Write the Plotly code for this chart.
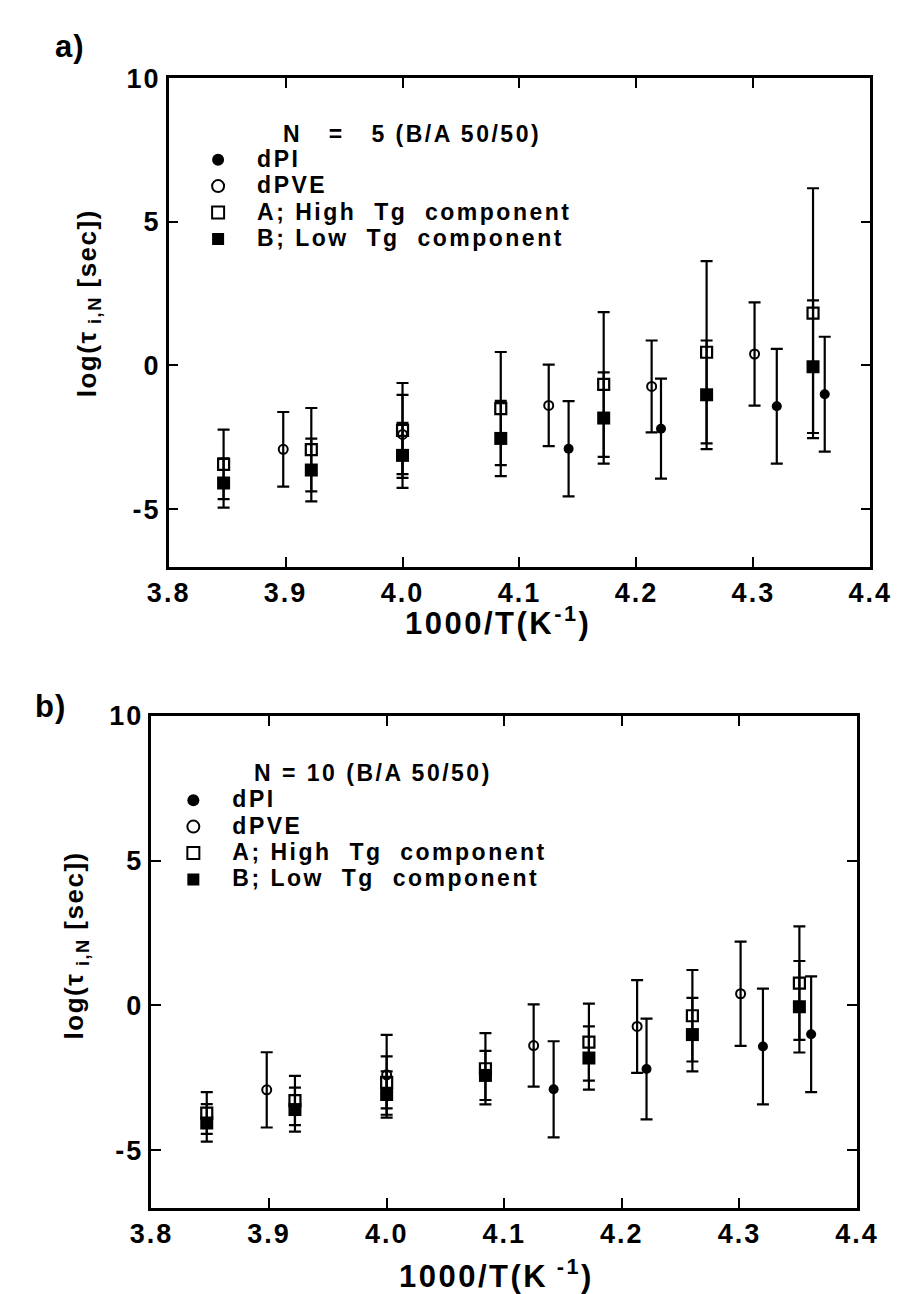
import plotly.graph_objects as go

# ---------------- data ----------------
x_dPI = [4.142, 4.221, 4.320, 4.361]
y_dPI = [-2.90, -2.20, -1.42, -1.00]
e_dPI = [1.66, 1.74, 2.00, 2.00]

x_dPVE = [3.898, 4.000, 4.125, 4.213, 4.301]
y_dPVE = [-2.92, -2.40, -1.39, -0.73, 0.40]
e_dPVE = [1.30, 1.38, 1.42, 1.60, 1.80]

x_AB = [3.847, 3.922, 4.000, 4.084, 4.172, 4.260, 4.351]

# panel a (N = 5)
a_A = [-3.44, -2.93, -2.26, -1.50, -0.66, 0.46, 1.82]
a_A_err = [1.21, 1.45, 1.65, 1.97, 2.52, 3.17, 4.35]
a_B = [-4.09, -3.64, -3.13, -2.54, -1.83, -1.02, -0.04]
a_B_err = [0.86, 1.09, 1.13, 1.31, 1.59, 1.89, 2.31]

# panel b (N = 10)
b_A = [-3.72, -3.29, -2.66, -2.19, -1.27, -0.36, 0.77]
b_A_err = [0.72, 0.85, 0.90, 1.23, 1.33, 1.58, 1.96]
b_B = [-4.06, -3.60, -3.08, -2.42, -1.82, -1.01, -0.05]
b_B_err = [0.65, 0.76, 0.80, 0.85, 1.09, 1.27, 1.58]

x_ticks = [3.8, 3.9, 4.0, 4.1, 4.2, 4.3, 4.4]
x_ticklabels = ["3.8", "3.9", "4.0", "4.1", "4.2", "4.3", "4.4"]
y_ticks = [-5, 0, 5, 10]
y_ticklabels = ["-5", "0", "5", "10"]

NB = "\u00a0"
series_names = ["dPI", "dPVE",
                "A;" + NB + "High" + NB * 2 + "Tg" + NB * 2 + "component",
                "B;" + NB + "Low" + NB * 2 + "Tg" + NB * 2 + "component"]
panel_titles = ["N" + NB * 3 + "=" + NB * 3 + "5 (B/A 50/50)", "N = 10 (B/A 50/50)"]
panel_letters = ["a)", "b)"]
y_title = "log(τ<sub> i,N</sub> [sec])"
x_titles = ["1000/T(K<sup>-1</sup>)", "1000/T(K<sup> -1</sup>)"]

FONT = "Liberation Sans, Arial, Helvetica, sans-serif"


def spaced(t, ls=2.5, size=None):
    st = "letter-spacing:%spx" % ls
    if size:
        st += ";font-size:%spx" % size
    return '<span style="%s">%s</span>' % (st, t)


fig = go.Figure()


def add_panel(k, yA, eA, yB, eB):
    xa = "x" if k == 1 else "x2"
    ya = "y" if k == 1 else "y2"
    lg = "legend" if k == 1 else "legend2"

    def err(arr):
        return dict(type="data", array=arr, visible=True, color="black",
                    thickness=2.2, width=6)

    fig.add_trace(go.Scatter(x=x_dPI, y=y_dPI, mode="markers",
                             name=spaced(series_names[0], 2.5, 23),
                             marker=dict(symbol="circle", size=10, color="black"),
                             error_y=err(e_dPI), xaxis=xa, yaxis=ya, legend=lg))
    fig.add_trace(go.Scatter(x=x_dPVE, y=y_dPVE, mode="markers",
                             name=spaced(series_names[1], 2.5, 23),
                             marker=dict(symbol="circle-open", size=9, color="black",
                                         line=dict(width=2, color="black")),
                             error_y=err(e_dPVE), xaxis=xa, yaxis=ya, legend=lg))
    fig.add_trace(go.Scatter(x=x_AB, y=yA, mode="markers",
                             name=spaced(series_names[2], 2.5, 23),
                             marker=dict(symbol="square-open", size=11, color="black",
                                         line=dict(width=2.2, color="black")),
                             error_y=err(eA), xaxis=xa, yaxis=ya, legend=lg))
    fig.add_trace(go.Scatter(x=x_AB, y=yB, mode="markers",
                             name=spaced(series_names[3], 2.5, 23),
                             marker=dict(symbol="square", size=13, color="black"),
                             error_y=err(eB), xaxis=xa, yaxis=ya, legend=lg))


add_panel(1, a_A, a_A_err, a_B, a_B_err)
add_panel(2, b_A, b_A_err, b_B, b_B_err)

xt_text = [spaced(t, 2) for t in x_ticklabels]
yt_text = [spaced(t, 2) for t in y_ticklabels]

axis_common = dict(showline=True, linecolor="black", linewidth=2.5, mirror="ticks",
                   ticks="inside", ticklen=10, tickwidth=2, tickcolor="black",
                   showgrid=False, zeroline=False,
                   tickfont=dict(family=FONT, size=27, color="black", weight="bold"))

xdomA = [154 / 919, 891 / 919]
ydomA = [1 - 558 / 1294, 1 - 64 / 1294]
xdomB = [136 / 919, 877 / 919]
ydomB = [1 - 1207 / 1294, 1 - 709 / 1294]

leg_common = dict(xanchor="left", yanchor="top", bgcolor="rgba(0,0,0,0)",
                  borderwidth=0, tracegroupgap=0, itemwidth=68, itemsizing="constant",
                  font=dict(family=FONT, size=18, color="black", weight="bold"))

fig.update_layout(
    width=919, height=1294,
    margin=dict(l=0, r=0, t=0, b=0),
    paper_bgcolor="white", plot_bgcolor="white",
    font=dict(family=FONT, color="black"),
    xaxis=dict(domain=xdomA, range=[3.8, 4.4], anchor="y", tickvals=x_ticks,
               ticktext=xt_text, **axis_common),
    yaxis=dict(domain=ydomA, range=[-7, 10], anchor="x", tickvals=y_ticks,
               ticktext=yt_text, **axis_common),
    xaxis2=dict(domain=xdomB, range=[3.8, 4.4], anchor="y2", tickvals=x_ticks,
                ticktext=xt_text, **axis_common),
    yaxis2=dict(domain=ydomB, range=[-7, 10], anchor="x2", tickvals=y_ticks,
                ticktext=yt_text, **axis_common),
    legend=dict(x=165 / 919, y=1 - 128 / 1294, **leg_common),
    legend2=dict(x=139 / 919, y=1 - 776 / 1294, **leg_common),
    showlegend=True,
)


def ann(text, x, y, size, xanchor="center", angle=0, ls=2.5):
    fig.add_annotation(text=spaced(text, ls), x=x / 919, y=1 - y / 1294,
                       xref="paper", yref="paper", showarrow=False,
                       xanchor=xanchor, yanchor="middle", textangle=angle,
                       font=dict(family=FONT, size=size, color="black", weight="bold"))


# legend headings
ann(panel_titles[0], 272, 120, 23, xanchor="left")
ann(panel_titles[1], 242, 767, 23, xanchor="left")
# panel letters
ann(panel_letters[0], 33, 32, 31, xanchor="left", ls=1)
ann(panel_letters[1], 12, 700, 31, xanchor="left", ls=1)
# axis titles
ann(y_title, 70, 292, 26, angle=-90, ls=1.5)
ann(y_title, 56, 941, 26, angle=-90, ls=1.5)
ann(x_titles[0], 500, 613, 31, ls=2.5)
ann(x_titles[1], 498, 1274, 31, ls=2.5)

fig.write_html("out.html")
